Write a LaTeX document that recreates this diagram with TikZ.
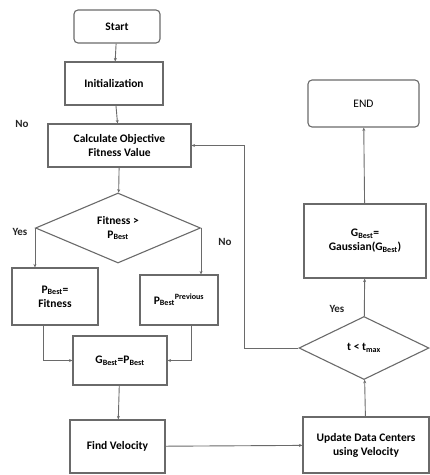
\documentclass[tikz,border=0pt]{standalone}
\usepackage{fontspec}
\usepackage{amsmath}
\setmainfont{Carlito}
\usetikzlibrary{arrows.meta,shapes.geometric}
\definecolor{edge}{HTML}{6A6A6A}
\begin{document}
\begin{tikzpicture}[x=1pt,y=-1pt,
  box/.style={draw=edge,line width=1.1pt,fill=white,minimum width=#1,inner sep=1pt,align=center,font=\fontsize{11.5}{14}\selectfont\bfseries},
  term/.style={box=#1,rounded corners=4pt},
  dia/.style={draw=edge,line width=1.1pt,fill=white,diamond,aspect=2.2,inner sep=0pt,align=center,font=\fontsize{11.5}{14}\selectfont\bfseries},
  conn/.style={draw=edge,line width=0.9pt,-{Stealth[length=3.5pt,width=3pt]}},
  lbl/.style={font=\fontsize{11}{13}\selectfont\bfseries,text=black!85}]
\useasboundingbox (0,0) rectangle (430,475);
\node[term=86pt,minimum height=33pt] (start) at (117,26.5) {Start};
\node[box=98pt,minimum height=43pt] (init) at (114,83.5) {Initialization};
\node[box=143pt,minimum height=43pt] (calc) at (119.5,145.5) {Calculate Objective\\Fitness Value};
\node[dia,minimum width=165pt,minimum height=70pt] (fit) at (118,228) {Fitness >\\P$_{\text{Best}}$};
\node[box=86pt,minimum height=57pt] (pbest) at (55,296.5) {P$_{\text{Best}}$=\\Fitness};
\node[box=78pt,minimum height=50pt] (pprev) at (179,300) {P$_{\text{Best}}{}^{\text{Previous}}$};
\node[box=94pt,minimum height=49pt] (gbest) at (120,360.5) {G$_{\text{Best}}$=P$_{\text{Best}}$};
\node[box=95pt,minimum height=53pt] (findv) at (117.5,446.5) {Find Velocity};
\node[box=126pt,minimum height=56pt] (update) at (366,445) {Update Data Centers\\using Velocity};
\node[dia,minimum width=130pt,minimum height=63pt] (tdia) at (364,348) {t < t$_{\text{max}}$};
\node[box=122pt,minimum height=74pt] (gauss) at (365,241) {G$_{\text{Best}}$=\\Gaussian(G$_{\text{Best}}$)};
\node[term=111pt,minimum height=47pt,font=\fontsize{11.5}{14}\selectfont] (end) at (363.5,103.5) {END};
\coordinate (lp) at (43,325);
\coordinate (rp) at (191,325);
\coordinate (loop) at (244,348);
\node[lbl] (no1) at (22,124) {No};
\node[lbl] (yes1) at (20,232) {Yes};
\node[lbl] (no2) at (225,242) {No};
\node[lbl] (yes2) at (337,309) {Yes};
\draw[conn] (start) -- (init);
\draw[conn] (init) -- (calc);
\draw[conn] (calc) -- (fit);
\draw[conn] (fit.west) -- (fit.west |- pbest.north);
\draw[conn] (fit.east) -- (fit.east |- pprev.north);
\draw[conn] (lp) |- (gbest.west);
\draw[conn] (rp) |- (gbest.east);
\draw[conn] (gbest) -- (findv);
\draw[conn] (findv) -- (update);
\draw[conn] (update) -- (tdia);
\draw[conn] (tdia) -- (gauss);
\draw[conn] (gauss) -- (end);
\draw[conn] (tdia.west) -- (loop) |- (calc.east);
\end{tikzpicture}
\end{document}
